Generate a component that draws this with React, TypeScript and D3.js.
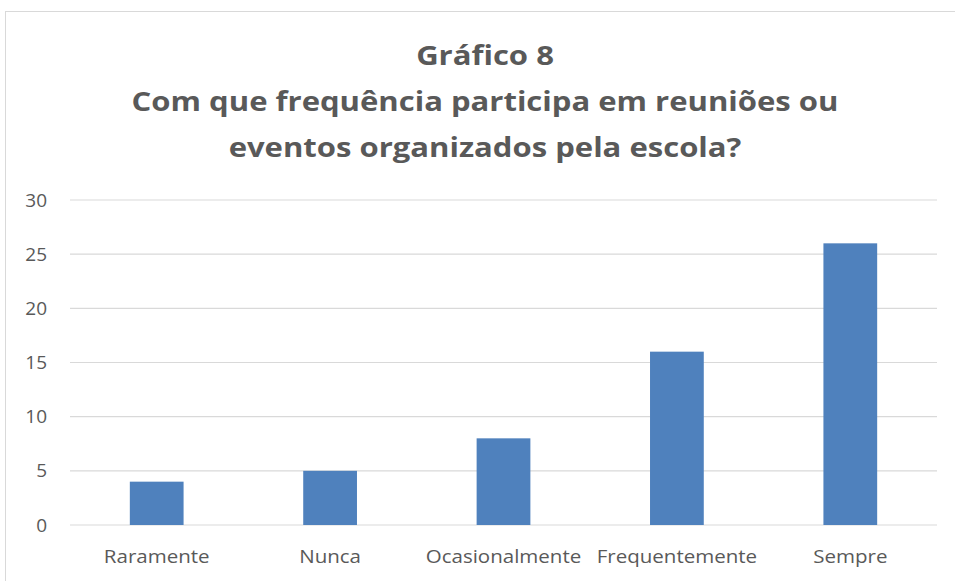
import React from "react";
import * as d3 from "d3";

const categories = ["Raramente", "Nunca", "Ocasionalmente", "Frequentemente", "Sempre"];
const values = [4, 5, 8, 16, 26];
const yTicks = [0, 5, 10, 15, 20, 25, 30];
const titleLines = ["Gráfico 8", "Com que frequência participa em reuniões ou", "eventos organizados pela escola?"];

const W = 955;
const H = 581;
const plot = { left: 70, right: 937, top: 200, bottom: 525 };
const textColor = "#595959";
const font = "'Open Sans', Lato, sans-serif";

export default function App() {
  const x = d3
    .scaleBand<string>()
    .domain(categories)
    .range([plot.left, plot.right])
    .paddingInner(0.69)
    .paddingOuter(0.345);
  const y = d3.scaleLinear().domain([0, 30]).range([plot.bottom, plot.top]);

  return (
    <svg
      width={W}
      height={H}
      style={{ position: "absolute", left: 0, top: 0, background: "#fff" }}
      fontFamily={font}
    >
      <rect x={5.5} y={11.5} width={980} height={600} fill="#fff" stroke="#d9d9d9" strokeWidth={1} />
      {titleLines.map((t, i) => (
        <text
          key={i}
          transform={`translate(485,${65 + i * 46}) scale(1.15,1)`}
          textAnchor="middle"
          fontSize={27}
          fontWeight={700}
          fill={textColor}
        >
          {t}
        </text>
      ))}
      {yTicks.map((t) => (
        <g key={t}>
          <line x1={plot.left} x2={plot.right} y1={y(t)} y2={y(t)} stroke="#d9d9d9" strokeWidth={1.2} />
          <text x={47} y={y(t)} dy="0.35em" textAnchor="end" fontSize={19} fill={textColor}>
            {t}
          </text>
        </g>
      ))}
      {categories.map((c, i) => (
        <g key={c}>
          <rect
            x={x(c)!}
            y={y(values[i])}
            width={x.bandwidth()}
            height={y(0) - y(values[i])}
            fill="#4f81bd"
          />
          <text
            transform={`translate(${x(c)! + x.bandwidth() / 2},563) scale(1.08,1)`}
            textAnchor="middle"
            fontSize={19}
            fill={textColor}
          >
            {c}
          </text>
        </g>
      ))}
    </svg>
  );
}
